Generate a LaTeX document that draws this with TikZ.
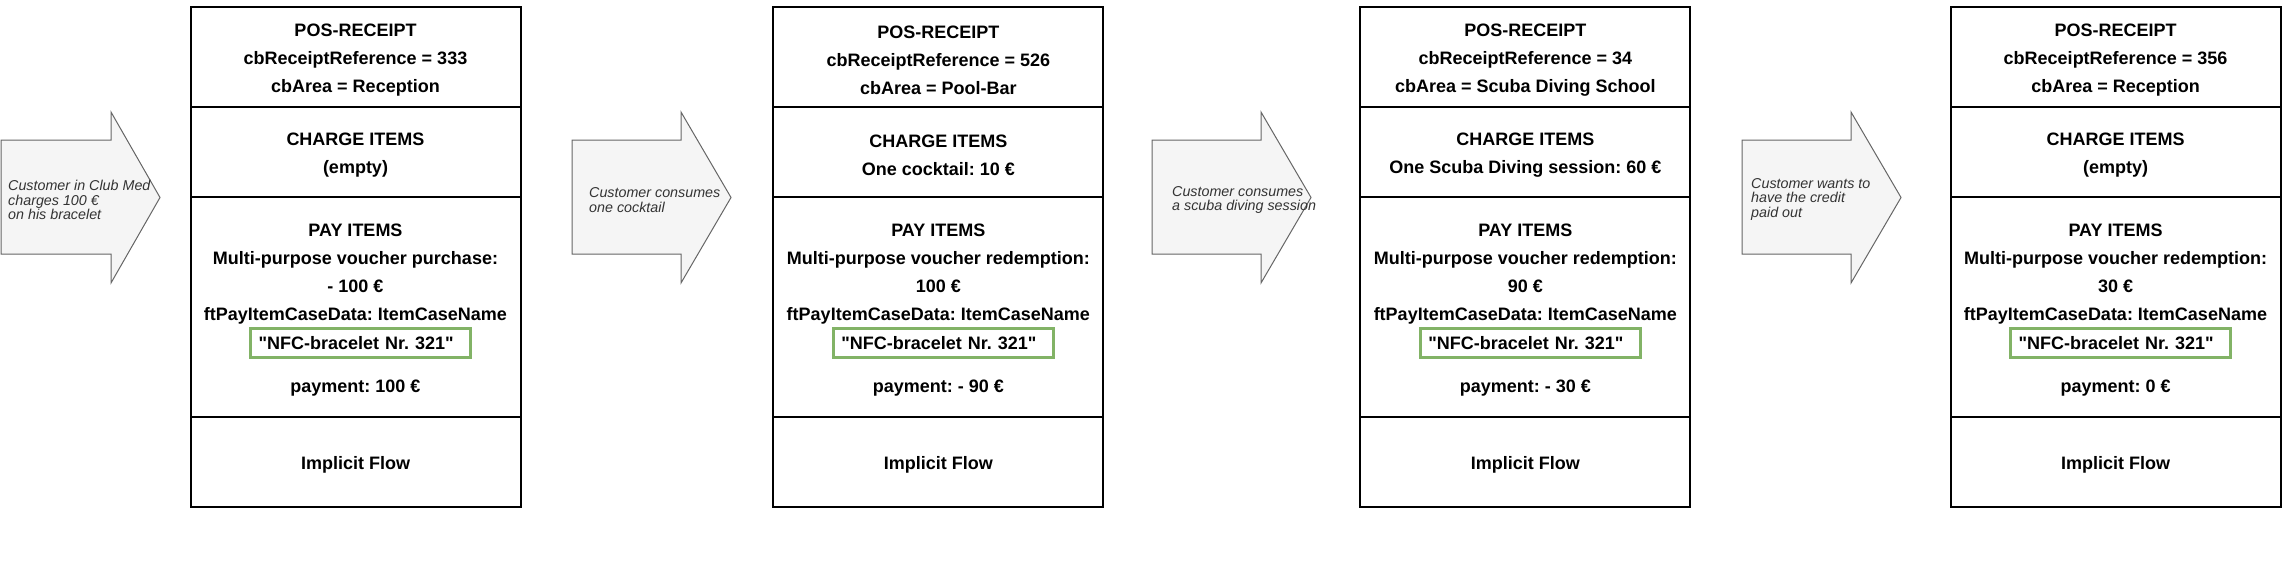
\documentclass[tikz,border=0pt]{standalone}
\usepackage{fontspec}
\newfontfamily\receiptfont{Liberation Sans}
\usepackage{tikz}
\usetikzlibrary{positioning}
\frenchspacing
\definecolor{arrowfill}{HTML}{F5F5F5}
\definecolor{arrowline}{HTML}{666666}
\definecolor{arrowtxt}{HTML}{333333}
\definecolor{nfcgreen}{HTML}{82B366}
\tikzset{
  section/.style={draw, rectangle, line width=2pt, minimum width=330pt, outer sep=0pt, inner sep=0pt},
  rtext/.style={align=center, inner sep=0pt, yshift=-3pt, font=\receiptfont\bfseries\fontsize{18}{28}\selectfont},
  nfcbox/.style={draw=nfcgreen, rectangle, line width=3pt, minimum height=29pt, text width=204pt,
    inner xsep=8pt, inner ysep=0pt, align=left, font=\receiptfont\bfseries\fontsize{18}{22}\selectfont},
  flowarrow/.style={draw=arrowline, fill=arrowfill, line width=1pt},
  flowtext/.style={anchor=west, align=left, inner sep=0pt, text=arrowtxt,
    font=\receiptfont\itshape\fontsize{14.3}{14.5}\selectfont}
}
\begin{document}
\begin{tikzpicture}[x=1pt, y=-1pt]
      \useasboundingbox (0,0) rectangle (2282,578);

      \draw[flowarrow] (1,140) -- (111,140) -- (111,112) -- (160,197.5) -- (111,283) -- (111,254) -- (1,254) -- cycle;
      \node[flowtext] (step1) at (8,200) {Customer in Club Med\\charges 100 €\\on his bracelet};

      \node[section, minimum height=100pt] (head1) at (355.5,57) {};
      \node[section, minimum height=90pt, below=0pt of head1] (charge1) {};
      \node[section, minimum height=220pt, below=0pt of charge1] (pay1) {};
      \node[section, minimum height=90pt, below=0pt of pay1] (flow1) {};
      \node[rtext] (headt1) at (head1.center) {POS-RECEIPT\\cbReceiptReference = 333\\cbArea = Reception};
      \node[rtext] (charget1) at (charge1.center) {CHARGE ITEMS\\(empty)};
      \node[rtext] (payt1) at ([yshift=36pt]pay1.center)
        {PAY ITEMS\\Multi-purpose voucher purchase:\\- 100 €\\ftPayItemCaseData: ItemCaseName};
      \node[nfcbox] (nfc1) at ([xshift=5pt,yshift=-36pt]pay1.center) {\symbol{34}NFC-bracelet Nr. 321\symbol{34}};
      \node[rtext] (paym1) at ([yshift=-78pt]pay1.center) {payment: 100 €};
      \node[rtext] (flowt1) at (flow1.center) {Implicit Flow};

      \draw[flowarrow] (572,140) -- (681,140) -- (681,112) -- (731,197.5) -- (681,283) -- (681,254) -- (572,254) -- cycle;
      \node[flowtext] (step2) at (589,200) {Customer consumes\\one cocktail};

      \node[section, minimum height=100pt] (head2) at (938.3,57) {};
      \node[section, minimum height=90pt, below=0pt of head2] (charge2) {};
      \node[section, minimum height=220pt, below=0pt of charge2] (pay2) {};
      \node[section, minimum height=90pt, below=0pt of pay2] (flow2) {};
      \node[rtext] (headt2) at (head2.center) {POS-RECEIPT\\cbReceiptReference = 526\\cbArea = Pool-Bar};
      \node[rtext] (charget2) at (charge2.center) {CHARGE ITEMS\\One cocktail: 10 €};
      \node[rtext] (payt2) at ([yshift=36pt]pay2.center)
        {PAY ITEMS\\Multi-purpose voucher redemption:\\100 €\\ftPayItemCaseData: ItemCaseName};
      \node[nfcbox] (nfc2) at ([xshift=5pt,yshift=-36pt]pay2.center) {\symbol{34}NFC-bracelet Nr. 321\symbol{34}};
      \node[rtext] (paym2) at ([yshift=-78pt]pay2.center) {payment: - 90 €};
      \node[rtext] (flowt2) at (flow2.center) {Implicit Flow};

      \draw[flowarrow] (1152,140) -- (1261,140) -- (1261,112) -- (1311,197.5) -- (1261,283) -- (1261,254) -- (1152,254) -- cycle;
      \node[flowtext] (step3) at (1172,200) {Customer consumes\\a scuba diving session};

      \node[section, minimum height=100pt] (head3) at (1525.3,57) {};
      \node[section, minimum height=90pt, below=0pt of head3] (charge3) {};
      \node[section, minimum height=220pt, below=0pt of charge3] (pay3) {};
      \node[section, minimum height=90pt, below=0pt of pay3] (flow3) {};
      \node[rtext] (headt3) at (head3.center) {POS-RECEIPT\\cbReceiptReference = 34\\cbArea = Scuba Diving School};
      \node[rtext] (charget3) at (charge3.center) {CHARGE ITEMS\\One Scuba Diving session: 60 €};
      \node[rtext] (payt3) at ([yshift=36pt]pay3.center)
        {PAY ITEMS\\Multi-purpose voucher redemption:\\90 €\\ftPayItemCaseData: ItemCaseName};
      \node[nfcbox] (nfc3) at ([xshift=5pt,yshift=-36pt]pay3.center) {\symbol{34}NFC-bracelet Nr. 321\symbol{34}};
      \node[rtext] (paym3) at ([yshift=-78pt]pay3.center) {payment: - 30 €};
      \node[rtext] (flowt3) at (flow3.center) {Implicit Flow};

      \draw[flowarrow] (1742,140) -- (1851,140) -- (1851,112) -- (1901,197.5) -- (1851,283) -- (1851,254) -- (1742,254) -- cycle;
      \node[flowtext] (step4) at (1751,199) {Customer wants to\\have the credit\\paid out};

      \node[section, minimum height=100pt] (head4) at (2115.5,57) {};
      \node[section, minimum height=90pt, below=0pt of head4] (charge4) {};
      \node[section, minimum height=220pt, below=0pt of charge4] (pay4) {};
      \node[section, minimum height=90pt, below=0pt of pay4] (flow4) {};
      \node[rtext] (headt4) at (head4.center) {POS-RECEIPT\\cbReceiptReference = 356\\cbArea = Reception};
      \node[rtext] (charget4) at (charge4.center) {CHARGE ITEMS\\(empty)};
      \node[rtext] (payt4) at ([yshift=36pt]pay4.center)
        {PAY ITEMS\\Multi-purpose voucher redemption:\\30 €\\ftPayItemCaseData: ItemCaseName};
      \node[nfcbox] (nfc4) at ([xshift=5pt,yshift=-36pt]pay4.center) {\symbol{34}NFC-bracelet Nr. 321\symbol{34}};
      \node[rtext] (paym4) at ([yshift=-78pt]pay4.center) {payment: 0 €};
      \node[rtext] (flowt4) at (flow4.center) {Implicit Flow};
    \end{tikzpicture}
\end{document}
